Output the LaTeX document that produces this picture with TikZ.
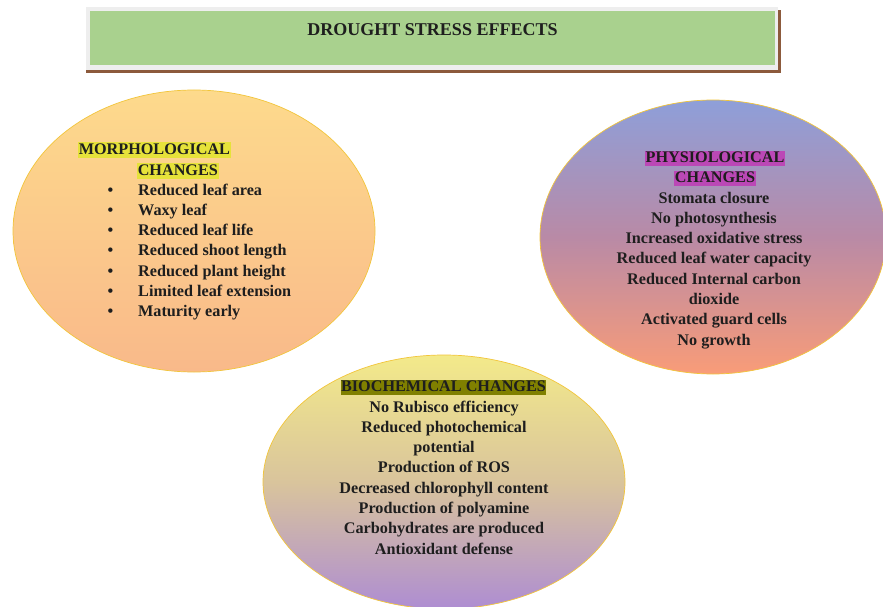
\documentclass[tikz,border=0pt]{standalone}
\usepackage{fontspec}
\setmainfont{Liberation Serif}
\usetikzlibrary{shapes.geometric}

\definecolor{inkdark}{HTML}{1E1E1E}
\definecolor{rimgold}{HTML}{F2C53A}
\definecolor{titlegreen}{HTML}{A9D18E}
\definecolor{titlerim}{HTML}{EEEEEE}
\definecolor{titleshadow}{HTML}{8C5A3C}
\definecolor{morphtop}{HTML}{FDDA8C}
\definecolor{morphbot}{HTML}{F9B98A}
\definecolor{physiotop}{HTML}{8E9FD9}
\definecolor{physiomid}{HTML}{B98AA6}
\definecolor{physiobot}{HTML}{F99C78}
\definecolor{biotop}{HTML}{F3EA8A}
\definecolor{biomid}{HTML}{D9C49C}
\definecolor{biobot}{HTML}{AE8DD2}
\definecolor{hlyellow}{HTML}{E6E23A}
\definecolor{hlmagenta}{HTML}{BB48B6}
\definecolor{hlolive}{HTML}{808000}

\begin{document}
\begin{tikzpicture}[x=1pt,y=-1pt,
  blob/.style={draw=rimgold, line width=0.7pt},
  body/.style={font=\fontsize{16.2}{19}\bfseries\selectfont, text=inkdark, inner sep=0pt},
  header/.style={body, inner xsep=0.6pt, inner ysep=0pt, text height=12pt, text depth=3.6pt}
]
\useasboundingbox (0,0) rectangle (883,607);
\fill[white] (0,0) rectangle (883,607);

% title banner: brown shadow, pale rim, green panel
\fill[titleshadow] (86,10) rectangle (781,72.7);
\fill[titlerim] (86,7) rectangle (778,69.8);
\fill[titlegreen] (90,11.5) rectangle (775,65.5);
\node[font=\fontsize{18}{20}\bfseries\selectfont, text=inkdark, anchor=base, inner sep=0pt]
  (title) at (432.5,36) {DROUGHT STRESS EFFECTS};

% morphological changes
\path[blob, top color=morphtop, bottom color=morphbot]
  (194,231) ellipse [x radius=181, y radius=141];
\node[header, fill=hlyellow, anchor=base west] (morphA) at (78,154) {MORPHOLOGICAL};
\node[header, fill=hlyellow, anchor=base west] (morphB) at (137,175) {CHANGES};
\foreach [count=\i] \t in {Reduced leaf area, Waxy leaf, Reduced leaf life,
    Reduced shoot length, Reduced plant height, Limited leaf extension, Maturity early} {
  \node[body, anchor=base west] (morph\i) at (138,{195+20.3*(\i-1)}) {\t};
  \node[body, anchor=base] (bullet\i) at (110.5,{195+20.3*(\i-1)}) {\textbullet};
}

% physiological changes
\path[blob, top color=physiotop, bottom color=physiobot, middle color=physiomid]
  (713,237) ellipse [x radius=173, y radius=137];
\node[header, fill=hlmagenta, anchor=base] (physA) at (715,162.5) {PHYSIOLOGICAL};
\node[header, fill=hlmagenta, anchor=base] (physB) at (715,182.5) {CHANGES};
\foreach [count=\i] \t in {Stomata closure, No photosynthesis, Increased oxidative stress,
    Reduced leaf water capacity, Reduced Internal carbon, dioxide,
    Activated guard cells, No growth} {
  \node[body, anchor=base] (phys\i) at (714,{203+20.3*(\i-1)}) {\t};
}

% biochemical changes
\path[blob, top color=biotop, bottom color=biobot, middle color=biomid]
  (444,482) ellipse [x radius=181, y radius=127];
\node[header, fill=hlolive, anchor=base] (bioA) at (443.5,391.5) {BIOCHEMICAL CHANGES};
\foreach [count=\i] \t in {No Rubisco efficiency, Reduced photochemical, potential,
    Production of ROS, Decreased chlorophyll content, Production of polyamine,
    Carbohydrates are produced, Antioxidant defense} {
  \node[body, anchor=base] (bio\i) at (444,{412+20.3*(\i-1)}) {\t};
}
\end{tikzpicture}
\end{document}
